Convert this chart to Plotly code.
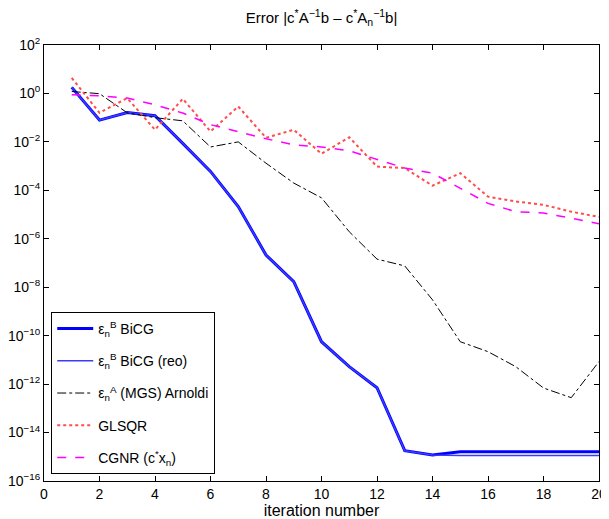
import plotly.graph_objects as go

iters = list(range(1, 21))

# log10 of the errors
bicg_log = [0.25, -1.10, -0.79, -0.92, -2.06, -3.22, -4.67, -6.67, -7.77, -10.25,
            -11.28, -12.15, -14.75, -14.93, -14.79, -14.79, -14.79, -14.79, -14.79, -14.79]
bicg_reo_log = [0.25, -1.10, -0.79, -0.92, -2.06, -3.22, -4.67, -6.67, -7.77, -10.25,
                -11.28, -12.15, -14.75, -14.93, -14.95, -14.95, -14.95, -14.95, -14.95, -14.95]
arnoldi_log = [0.08, -0.01, -0.80, -1.00, -1.13, -2.21, -2.00, -2.88, -3.70, -4.31,
               -5.71, -6.84, -7.12, -8.52, -10.25, -10.66, -11.28, -12.16, -12.56, -11.07]
glsqr_log = [0.64, -0.80, -0.19, -1.50, -0.22, -1.57, -0.54, -1.83, -1.50, -2.49,
             -1.81, -3.02, -3.08, -3.81, -3.29, -4.26, -4.46, -4.60, -4.88, -5.10]
cgnr_log = [-0.05, -0.10, -0.19, -0.47, -0.81, -1.29, -1.58, -1.87, -2.12, -2.21,
            -2.37, -2.74, -3.08, -3.29, -3.91, -4.54, -4.88, -4.94, -5.15, -5.38]

x_ticks = list(range(0, 21, 2))
y_exps = list(range(-16, 3, 2))
y_ticktext = ["10<sup>%s</sup>" % (str(e).replace("-", "\u2212")) for e in y_exps]


def tenpow(v):
    return [10 ** a for a in v]


fig = go.Figure()
fig.add_trace(go.Scatter(x=iters, y=tenpow(bicg_log), mode="lines", legendgroup="a",
                         line=dict(color="#0000ff", width=3),
                         name="\u03b5<sub>n</sub><sup>B</sup> BiCG"))
fig.add_trace(go.Scatter(x=iters, y=tenpow(bicg_reo_log), mode="lines", legendgroup="b",
                         line=dict(color="#3b3bff", width=1.5),
                         name="\u03b5<sub>n</sub><sup>B</sup> BiCG (reo)"))
fig.add_trace(go.Scatter(x=iters, y=tenpow(arnoldi_log), mode="lines", legendgroup="c",
                         line=dict(color="#000000", width=1, dash="dashdot"),
                         name="\u03b5<sub>n</sub><sup>A</sup> (MGS) Arnoldi"))
fig.add_trace(go.Scatter(x=iters, y=tenpow(glsqr_log), mode="lines", legendgroup="d",
                         line=dict(color="#ff4d4d", width=2, dash="dot"),
                         name="GLSQR"))
fig.add_trace(go.Scatter(x=iters, y=tenpow(cgnr_log), mode="lines", legendgroup="e",
                         line=dict(color="#ff00ff", width=1.5, dash="dash"),
                         name="CGNR (c<sup>*</sup>x<sub>n</sub>)"))

axis_common = dict(showline=True, linecolor="black", linewidth=1, mirror="ticks",
                   ticks="inside", ticklen=5, tickcolor="black", showgrid=False,
                   zeroline=False, tickfont=dict(size=14, color="black"))

# page body has an 8px margin, so the figure is drawn 8px in from the top-left
fig.update_layout(
    width=601, height=511,
    margin=dict(l=36, r=10, t=37, b=38, autoexpand=False),
    paper_bgcolor="white", plot_bgcolor="white",
    font=dict(family="Liberation Sans, Arial, sans-serif", color="black", size=13),
    title=dict(text="Error |c<sup>*</sup>A<sup>\u22121</sup>b \u2013 c<sup>*</sup>A<sub>n</sub><sup>\u22121</sup>b|",
               x=(36 + 591) / 2 / 601, xanchor="center", y=1 - 10 / 511, yanchor="middle",
               font=dict(size=15)),
    xaxis=dict(range=[0, 20], tickvals=x_ticks, ticktext=[str(v) for v in x_ticks],
               title=dict(text="iteration number", font=dict(size=16), standoff=0),
               **axis_common),
    yaxis=dict(type="log", range=[-16, 2], tickvals=[10 ** e for e in y_exps],
               ticktext=y_ticktext, **axis_common),
    legend=dict(x=0.013, y=0.016, xanchor="left", yanchor="bottom",
                bgcolor="white", bordercolor="black", borderwidth=1,
                font=dict(size=14), tracegroupgap=11, itemwidth=36),
    showlegend=True,
)

fig.write_html("out.html")
